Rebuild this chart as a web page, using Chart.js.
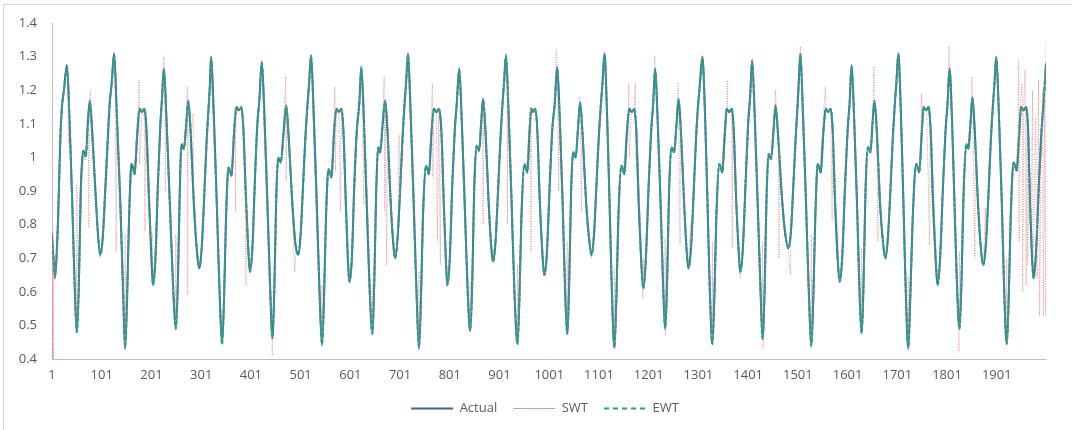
<!DOCTYPE html>
<html>
<head>
<meta charset="utf-8">
<script src="https://cdn.jsdelivr.net/npm/chart.js@4.4.1/dist/chart.umd.min.js"></script>
<style>
  html, body { margin: 0; padding: 0; background: #fff; overflow: hidden; }
  #wrap { position: relative; width: 1072px; height: 430px; }
  #frame { position: absolute; left: 3px; top: 4px; width: 1100px; height: 460px; border: 1px solid #d9d9d9; box-sizing: border-box; }
  canvas { position: absolute; left: 0; top: 0; }
</style>
</head>
<body>
<div id="wrap">
  <div id="frame"></div>
  <canvas id="chart" width="1072" height="430"></canvas>
</div>
<script>
// tick labels
const xTicks = [1, 101, 201, 301, 401, 501, 601, 701, 801, 901, 1001, 1101, 1201, 1301, 1401, 1501, 1601, 1701, 1801, 1901];
const yTicks = [0.4, 0.5, 0.6, 0.7, 0.8, 0.9, 1, 1.1, 1.2, 1.3, 1.4];
const seriesNames = ['Actual', 'SWT', 'EWT'];

// Actual: [sample index, value] read at turning points of the curve
const actualPts = [
  [1,0.77],[4,0.7],[7,0.64],[10,0.7],[13,0.81],[18,1.07],[21,1.15],[25,1.2],
  [31,1.275],[36,1.12],[42,0.85],[47,0.6],[51,0.478],[55,0.62],[59,0.91],[64,1.02],[69,1.005],[73,1.1],[77,1.17],[82,1.07],[89,0.88],[94,0.76],[98,0.71],[103,0.76],[108,0.9],[113,1.05],[117,1.16],[121,1.22],
  [126,1.31],[131,1.14],[138,0.88],[144,0.6],[148,0.43],[152,0.58],[156,0.82],[161,0.98],[164,0.97],[167,0.95],[172,1.06],[177,1.145],[182,1.135],[187,1.145],[191,1.08],[196,0.88],[201,0.7],[204,0.62],[209,0.7],[214,0.92],[219,1.1],[222,1.17],
  [226,1.266],[231,1.12],[238,0.86],[245,0.6],[250,0.49],[254,0.62],[258,0.9],[261,1.04],[266,1.025],[271,1.1],[275,1.17],[280,1.07],[286,0.87],[292,0.73],[297,0.67],[302,0.73],[307,0.88],[312,1.05],[316,1.15],[318,1.2],
  [321,1.3],[326,1.14],[332,0.88],[338,0.6],[343,0.445],[347,0.58],[351,0.82],[356,0.97],[359,0.96],[362,0.945],[367,1.07],[372,1.15],[377,1.14],[382,1.15],[386,1.08],[391,0.88],[396,0.72],[399,0.66],[404,0.73],[409,0.93],[414,1.1],[418,1.17],
  [423,1.285],[428,1.13],[434,0.87],[440,0.6],[444,0.46],[448,0.6],[452,0.88],[456,1.0],[461,0.985],[467,1.08],[472,1.155],[477,1.06],[484,0.87],[490,0.75],[496,0.71],[501,0.77],[506,0.92],[511,1.07],[515,1.16],[518,1.22],
  [522,1.305],[527,1.14],[533,0.88],[539,0.6],[544,0.44],[548,0.58],[552,0.82],[557,0.965],[560,0.955],[563,0.94],[568,1.07],[573,1.145],[578,1.135],[583,1.145],[587,1.08],[592,0.86],[596,0.7],[599,0.63],[604,0.7],[609,0.92],[614,1.08],[619,1.16],
  [623,1.27],[628,1.12],[634,0.86],[640,0.6],[645,0.475],[649,0.62],[653,0.9],[657,1.03],[661,1.015],[666,1.1],[671,1.17],[676,1.07],[682,0.87],[687,0.75],[691,0.7],[696,0.76],[701,0.9],[706,1.06],[710,1.16],[713,1.22],
  [717,1.31],[722,1.14],[728,0.88],[734,0.6],[739,0.43],[743,0.58],[747,0.82],[753,0.975],[756,0.965],[759,0.95],[764,1.07],[769,1.145],[774,1.135],[779,1.145],[784,1.08],[789,0.86],[793,0.7],[796,0.62],[801,0.7],[806,0.92],[811,1.08],[815,1.16],
  [820,1.265],[825,1.11],[831,0.86],[837,0.6],[842,0.483],[846,0.62],[850,0.9],[855,1.035],[860,1.02],[864,1.1],[868,1.175],[873,1.07],[879,0.87],[884,0.74],[888,0.69],[893,0.75],[898,0.9],[903,1.06],[907,1.16],[910,1.22],
  [914,1.305],[919,1.14],[925,0.88],[931,0.6],[937,0.445],[941,0.58],[945,0.82],[951,0.98],[954,0.97],[957,0.955],[961,1.07],[965,1.145],[969,1.135],[973,1.145],[977,1.08],[982,0.87],[987,0.72],[991,0.65],[996,0.71],[1002,0.92],[1007,1.08],[1012,1.16],
  [1017,1.27],[1022,1.12],[1028,0.86],[1033,0.6],[1037,0.475],[1041,0.62],[1045,0.9],[1049,1.015],[1054,1.0],[1059,1.09],[1063,1.165],[1068,1.07],[1075,0.87],[1081,0.76],[1086,0.71],[1091,0.77],[1096,0.92],[1101,1.07],[1105,1.16],[1108,1.22],
  [1112,1.31],[1117,1.14],[1122,0.88],[1127,0.6],[1132,0.433],[1136,0.58],[1140,0.82],[1146,0.975],[1149,0.965],[1152,0.95],[1157,1.07],[1162,1.145],[1167,1.135],[1172,1.145],[1176,1.08],[1181,0.86],[1186,0.69],[1190,0.61],[1195,0.69],[1201,0.92],[1206,1.08],[1210,1.16],
  [1214,1.265],[1219,1.11],[1225,0.86],[1230,0.62],[1234,0.49],[1238,0.63],[1242,0.9],[1247,1.03],[1252,1.015],[1257,1.1],[1261,1.175],[1266,1.07],[1272,0.87],[1277,0.73],[1281,0.67],[1286,0.73],[1291,0.88],[1296,1.05],[1300,1.15],[1303,1.2],
  [1309,1.3],[1314,1.14],[1319,0.88],[1324,0.6],[1329,0.445],[1333,0.58],[1337,0.82],[1343,0.98],[1346,0.97],[1349,0.955],[1354,1.07],[1358,1.145],[1363,1.135],[1368,1.145],[1372,1.08],[1377,0.87],[1382,0.72],[1385,0.66],[1390,0.72],[1396,0.93],[1401,1.1],[1405,1.18],
  [1409,1.29],[1414,1.13],[1420,0.87],[1426,0.6],[1430,0.46],[1434,0.6],[1438,0.88],[1442,1.01],[1447,0.995],[1452,1.08],[1456,1.155],[1461,1.07],[1468,0.9],[1475,0.78],[1482,0.73],[1487,0.78],[1492,0.92],[1497,1.07],[1501,1.17],[1503,1.23],
  [1506,1.31],[1511,1.14],[1517,0.88],[1523,0.6],[1528,0.44],[1532,0.58],[1536,0.82],[1541,0.98],[1544,0.97],[1547,0.955],[1552,1.07],[1557,1.145],[1562,1.135],[1567,1.145],[1571,1.08],[1576,0.86],[1581,0.7],[1585,0.63],[1590,0.7],[1596,0.92],[1601,1.08],[1605,1.16],
  [1609,1.275],[1614,1.12],[1620,0.86],[1625,0.6],[1629,0.478],[1633,0.62],[1637,0.9],[1642,1.03],[1647,1.015],[1651,1.1],[1655,1.17],[1660,1.07],[1666,0.87],[1672,0.75],[1677,0.7],[1682,0.76],[1687,0.9],[1692,1.06],[1696,1.16],[1699,1.22],
  [1703,1.31],[1708,1.14],[1713,0.88],[1718,0.6],[1723,0.43],[1727,0.58],[1732,0.82],[1739,0.98],[1742,0.97],[1745,0.955],[1750,1.07],[1754,1.15],[1759,1.14],[1764,1.15],[1768,1.08],[1773,0.86],[1778,0.7],[1782,0.62],[1787,0.7],[1793,0.92],[1798,1.08],[1802,1.16],
  [1806,1.265],[1811,1.11],[1816,0.86],[1821,0.62],[1826,0.49],[1830,0.63],[1834,0.88],[1840,1.04],[1844,1.025],[1848,1.1],[1852,1.18],[1857,1.07],[1863,0.87],[1869,0.73],[1874,0.68],[1879,0.74],[1884,0.88],[1889,1.05],[1893,1.15],[1896,1.21],
  [1900,1.3],[1905,1.14],[1911,0.87],[1916,0.6],[1921,0.445],[1925,0.58],[1929,0.82],[1935,0.985],[1938,0.975],[1941,0.96],[1946,1.07],[1950,1.15],[1955,1.14],[1960,1.15],[1964,1.08],[1968,0.86],[1972,0.7],[1975,0.64],[1980,0.72],[1986,0.93],[1991,1.08],[1995,1.16],[2000,1.28]
];

// EWT: values at the same sample indices as actualPts
const ewtY = [
  0.76,0.7,0.65,0.7,0.8,1.06,1.15,1.2,
  1.27,1.12,0.85,0.6,0.48,0.62,0.9,1.02,1.0,1.1,1.165,1.07,0.88,0.76,0.71,0.76,0.9,1.05,1.16,1.22,
  1.305,1.14,0.88,0.6,0.435,0.58,0.82,0.98,0.97,0.95,1.06,1.145,1.135,1.145,1.08,0.88,0.7,0.62,0.7,0.92,1.1,1.17,
  1.262,1.12,0.86,0.6,0.49,0.62,0.9,1.035,1.025,1.1,1.165,1.07,0.87,0.73,0.67,0.73,0.88,1.05,1.15,1.2,
  1.295,1.14,0.88,0.6,0.445,0.58,0.82,0.97,0.96,0.945,1.07,1.145,1.14,1.145,1.08,0.88,0.72,0.66,0.73,0.93,1.1,1.17,
  1.28,1.13,0.87,0.6,0.465,0.6,0.88,1.0,0.985,1.08,1.15,1.06,0.87,0.75,0.71,0.77,0.92,1.07,1.16,1.22,
  1.3,1.14,0.88,0.6,0.445,0.58,0.82,0.965,0.955,0.94,1.07,1.145,1.135,1.145,1.08,0.86,0.7,0.63,0.7,0.92,1.08,1.16,
  1.265,1.12,0.86,0.6,0.475,0.62,0.9,1.03,1.015,1.1,1.165,1.07,0.87,0.75,0.7,0.76,0.9,1.06,1.16,1.22,
  1.305,1.14,0.88,0.6,0.435,0.58,0.82,0.975,0.965,0.95,1.07,1.145,1.135,1.145,1.08,0.86,0.7,0.62,0.7,0.92,1.08,1.16,
  1.26,1.11,0.86,0.6,0.485,0.62,0.9,1.035,1.02,1.1,1.17,1.07,0.87,0.74,0.69,0.75,0.9,1.06,1.16,1.22,
  1.3,1.14,0.88,0.6,0.445,0.58,0.82,0.98,0.97,0.955,1.07,1.145,1.135,1.145,1.08,0.87,0.72,0.65,0.71,0.92,1.08,1.16,
  1.265,1.12,0.86,0.6,0.475,0.62,0.9,1.015,1.0,1.09,1.16,1.07,0.87,0.76,0.71,0.77,0.92,1.07,1.16,1.22,
  1.305,1.14,0.88,0.6,0.435,0.58,0.82,0.975,0.965,0.95,1.07,1.145,1.135,1.145,1.08,0.86,0.69,0.61,0.69,0.92,1.08,1.16,
  1.26,1.11,0.86,0.62,0.49,0.63,0.9,1.03,1.015,1.1,1.17,1.07,0.87,0.73,0.67,0.73,0.88,1.05,1.15,1.2,
  1.295,1.14,0.88,0.6,0.445,0.58,0.82,0.98,0.97,0.955,1.07,1.145,1.135,1.145,1.08,0.87,0.72,0.66,0.72,0.93,1.1,1.18,
  1.285,1.13,0.87,0.6,0.46,0.6,0.88,1.01,0.995,1.08,1.15,1.07,0.9,0.78,0.73,0.78,0.92,1.07,1.17,1.23,
  1.305,1.14,0.88,0.6,0.44,0.58,0.82,0.98,0.97,0.955,1.07,1.145,1.135,1.145,1.08,0.86,0.7,0.63,0.7,0.92,1.08,1.16,
  1.27,1.12,0.86,0.6,0.478,0.62,0.9,1.03,1.015,1.1,1.165,1.07,0.87,0.75,0.7,0.76,0.9,1.06,1.16,1.22,
  1.305,1.14,0.88,0.6,0.435,0.58,0.82,0.98,0.97,0.955,1.07,1.15,1.14,1.15,1.08,0.86,0.7,0.62,0.7,0.92,1.08,1.16,
  1.26,1.11,0.86,0.62,0.49,0.63,0.88,1.04,1.025,1.1,1.175,1.07,0.87,0.73,0.68,0.74,0.88,1.05,1.15,1.21,
  1.295,1.14,0.87,0.6,0.445,0.58,0.82,0.985,0.975,0.96,1.07,1.15,1.14,1.15,1.08,0.86,0.7,0.64,0.72,0.93,1.08,1.16,1.27
];

// SWT: [sample index, value], follows the curve but with the dotted spikes
const swtPts = [
  [1,0.76],[2,0.4],[3,0.78],[4,0.4],[5,0.7],[7,0.64],[10,0.7],[13,0.82],[18,1.06],[21,1.15],[25,1.21],
  [31,1.27],[33,1.2],[34,1.04],[35,1.17],[41,0.86],[47,0.6],[50,0.5],[51,0.92],[52,0.49],[56,0.66],[60,0.93],[65,1.0],[69,0.99],[74,1.1],[75,0.79],[76,1.13],[78,1.2],[80,1.08],[86,0.95],[92,0.8],[97,0.7],[103,0.77],[108,0.92],[111,1.0],[115,1.12],[119,1.18],[123,1.24],
  [126,1.3],[128,1.22],[130,0.72],[131,1.16],[138,0.88],[144,0.6],[147,0.45],[148,0.77],[149,0.44],[153,0.62],[157,0.86],[161,0.97],[166,0.95],[171,1.07],[175,1.13],[176,1.23],[177,0.98],[182,1.14],[187,1.12],[188,0.78],[189,1.1],[195,0.87],[200,0.75],[203,0.77],[204,0.62],[209,0.72],[214,0.91],[219,1.08],[222,1.18],
  [226,1.3],[228,1.2],[229,0.9],[230,1.12],[238,0.86],[245,0.6],[249,0.5],[250,0.77],[251,0.49],[255,0.64],[258,0.9],[261,1.03],[266,1.02],[271,1.1],[273,1.21],[274,0.59],[275,1.17],[280,1.06],[285,1.13],[286,0.9],[292,0.74],[297,0.68],[302,0.74],[307,0.88],[312,1.03],[316,1.15],[318,1.2],
  [321,1.3],[323,1.2],[330,0.94],[338,0.62],[342,0.47],[343,0.45],[347,0.58],[351,0.82],[356,0.97],[361,0.95],[366,1.06],[369,1.15],[370,0.84],[371,1.14],[376,1.14],[381,1.15],[386,1.08],[390,0.92],[391,0.62],[392,0.88],[396,0.72],[399,0.66],[404,0.72],[407,0.86],[409,0.93],[414,1.1],[418,1.17],
  [423,1.28],[425,1.2],[431,0.95],[438,0.65],[443,0.47],[444,0.41],[445,0.47],[449,0.62],[452,0.86],[456,1.0],[461,0.98],[467,1.08],[471,1.24],[472,0.93],[473,1.15],[478,1.04],[482,0.94],[486,0.77],[489,0.66],[492,0.72],[496,0.71],[501,0.76],[506,0.92],[511,1.07],[515,1.16],[518,1.22],
  [522,1.3],[524,1.22],[530,0.95],[537,0.65],[543,0.45],[544,0.62],[545,0.44],[549,0.6],[552,0.83],[557,0.965],[562,0.95],[567,1.06],[570,1.21],[571,0.96],[573,1.14],[578,1.135],[581,0.84],[583,1.14],[587,1.07],[592,0.86],[596,0.73],[599,0.63],[604,0.7],[609,0.92],[614,1.08],[619,1.16],
  [623,1.27],[625,1.2],[628,0.86],[629,1.1],[636,0.85],[641,0.6],[644,0.48],[645,0.62],[646,0.47],[650,0.64],[653,0.9],[657,1.03],[661,1.01],[666,1.1],[669,1.24],[670,0.84],[671,1.17],[674,0.68],[676,1.06],[682,0.87],[687,0.76],[691,0.7],[696,0.76],[699,1.07],[700,0.86],[705,1.04],[710,1.16],[713,1.22],
  [717,1.31],[719,1.23],[726,0.93],[733,0.62],[738,0.44],[739,0.66],[740,0.43],[744,0.59],[748,0.83],[753,0.975],[758,0.95],[763,1.07],[766,1.22],[767,0.94],[769,1.145],[774,1.135],[776,0.75],[779,1.145],[782,0.68],[784,1.08],[789,0.86],[793,0.72],[796,0.62],[801,0.7],[806,0.92],[811,1.08],[815,1.16],
  [820,1.27],[822,1.23],[828,0.93],[836,0.62],[841,0.49],[842,0.63],[843,0.48],[847,0.64],[851,0.92],[856,1.035],[860,1.02],[864,1.1],[867,1.14],[868,0.8],[869,1.175],[873,1.07],[879,0.87],[884,0.74],[888,0.72],[893,0.75],[898,0.9],[903,1.06],[907,1.16],[910,1.22],
  [914,1.31],[916,1.28],[917,0.8],[918,1.22],[925,0.89],[931,0.62],[936,0.45],[937,0.68],[938,0.44],[942,0.6],[946,0.84],[951,0.98],[955,0.965],[960,1.07],[963,1.15],[964,0.72],[965,1.145],[969,1.135],[973,1.145],[977,1.08],[982,0.87],[987,0.72],[991,0.65],[996,0.71],[1002,0.92],[1007,1.08],[1012,1.16],
  [1015,1.32],[1017,1.27],[1020,0.9],[1021,1.16],[1028,0.86],[1033,0.6],[1036,0.5],[1037,0.75],[1038,0.47],[1042,0.64],[1045,0.9],[1049,1.015],[1054,1.0],[1059,1.09],[1062,1.18],[1063,1.15],[1066,0.84],[1067,1.12],[1075,0.87],[1081,0.76],[1086,0.7],[1091,0.77],[1096,0.92],[1101,1.07],[1105,1.16],[1108,1.22],
  [1112,1.31],[1114,1.24],[1122,0.88],[1127,0.6],[1131,0.45],[1132,0.67],[1133,0.43],[1137,0.6],[1141,0.83],[1146,0.975],[1150,0.96],[1155,1.06],[1160,1.145],[1161,1.22],[1162,1.0],[1166,1.14],[1171,1.135],[1174,1.22],[1175,1.0],[1178,1.07],[1183,0.86],[1187,0.7],[1189,0.58],[1190,0.7],[1191,0.61],[1196,0.7],[1201,0.92],[1206,1.08],[1210,1.16],
  [1213,1.3],[1214,1.265],[1219,1.11],[1225,0.86],[1230,0.62],[1233,0.5],[1234,0.76],[1235,0.47],[1239,0.64],[1242,0.9],[1247,1.03],[1252,1.015],[1257,1.1],[1260,1.22],[1261,1.17],[1264,0.74],[1265,1.1],[1271,0.9],[1276,0.75],[1281,0.68],[1285,0.8],[1286,0.73],[1291,0.88],[1296,1.05],[1300,1.15],[1303,1.2],
  [1309,1.3],[1311,1.24],[1319,0.88],[1324,0.6],[1328,0.46],[1329,0.75],[1330,0.445],[1334,0.6],[1338,0.85],[1343,0.98],[1347,0.965],[1352,1.06],[1358,1.145],[1359,1.23],[1360,1.13],[1364,1.135],[1368,1.145],[1369,0.73],[1370,1.1],[1376,0.88],[1382,0.72],[1385,0.64],[1390,0.72],[1396,0.93],[1401,1.1],[1405,1.18],
  [1409,1.29],[1411,1.22],[1420,0.87],[1426,0.6],[1429,0.47],[1430,0.75],[1431,0.43],[1434,0.6],[1438,0.88],[1442,1.01],[1447,0.995],[1452,1.08],[1456,1.2],[1457,1.15],[1462,1.06],[1463,0.7],[1464,1.03],[1470,0.88],[1476,0.78],[1482,0.72],[1486,0.65],[1487,0.78],[1492,0.92],[1497,1.07],[1501,1.17],[1503,1.23],
  [1506,1.33],[1507,1.3],[1511,1.14],[1517,0.88],[1523,0.6],[1527,0.43],[1528,0.77],[1529,0.45],[1532,0.6],[1536,0.85],[1541,0.98],[1545,0.965],[1550,1.06],[1556,1.21],[1557,1.145],[1562,1.135],[1567,1.145],[1570,0.81],[1571,1.08],[1577,0.86],[1582,0.77],[1583,0.68],[1585,0.63],[1590,0.7],[1596,0.92],[1601,1.08],[1605,1.16],
  [1609,1.275],[1614,1.12],[1620,0.86],[1625,0.6],[1628,0.49],[1629,0.73],[1630,0.48],[1634,0.64],[1637,0.9],[1642,1.03],[1647,1.015],[1651,1.1],[1654,1.27],[1655,1.17],[1660,1.07],[1662,0.75],[1663,1.0],[1667,0.87],[1672,0.75],[1677,0.7],[1679,0.75],[1682,0.76],[1687,0.9],[1692,1.06],[1696,1.16],[1699,1.22],
  [1703,1.31],[1708,1.14],[1713,0.88],[1718,0.6],[1722,0.44],[1723,0.65],[1724,0.43],[1728,0.6],[1732,0.82],[1739,0.98],[1742,0.97],[1746,0.955],[1750,1.19],[1751,1.07],[1755,1.15],[1760,1.14],[1766,0.74],[1767,1.1],[1770,1.06],[1775,0.86],[1779,0.72],[1782,0.62],[1787,0.7],[1793,0.92],[1798,1.08],[1802,1.16],
  [1805,1.33],[1806,1.265],[1811,1.11],[1816,0.86],[1821,0.62],[1825,0.42],[1826,0.72],[1827,0.49],[1830,0.63],[1834,0.88],[1840,1.04],[1844,1.025],[1848,1.1],[1851,1.24],[1852,1.18],[1857,0.7],[1858,1.05],[1863,0.87],[1869,0.73],[1874,0.68],[1878,0.85],[1879,0.74],[1884,0.88],[1889,1.05],[1893,1.15],[1896,1.21],
  [1900,1.3],[1905,1.14],[1911,0.87],[1916,0.6],[1920,0.45],[1921,0.7],[1922,0.445],[1926,0.6],[1930,0.84],[1935,0.985],[1939,0.97],[1944,1.05],[1945,1.29],[1946,0.75],[1948,1.15],[1952,1.22],[1953,0.6],[1955,1.14],[1958,1.26],[1960,0.62],[1962,1.12],[1963,0.68],[1966,0.95],[1970,0.8],[1973,1.2],[1974,0.7],[1976,0.82],[1979,1.12],[1982,0.64],[1985,1.23],[1987,0.53],[1990,1.0],[1993,1.2],[1995,0.53],[1997,1.25],[1999,0.53],[2000,1.34]
];

document.addEventListener('DOMContentLoaded', function(){
  const ctx = document.getElementById('chart').getContext('2d');
  const font = { family: "'Open Sans', 'Liberation Sans', sans-serif", size: 13 };
  const toXY = pts => pts.map(p => ({ x: p[0], y: p[1] }));
  // legend sample dashes (Excel draws them a bit longer than in the plot)
  const legendDash = [[], [], [5, 4]];

  // legend is centred on the whole picture, not on the plot
  const legendShift = {
    id: 'legendShift',
    afterLayout(chart) {
      chart.legend.left += 22;
      chart.legend.right += 22;
    }
  };

  new Chart(ctx, {
    type: 'line',
    data: {
      datasets: [
        {
          label: seriesNames[0],
          data: toXY(actualPts),
          borderColor: '#47619a',
          borderWidth: 2,
          pointRadius: 0,
          cubicInterpolationMode: 'monotone',
          order: 3
        },
        {
          label: seriesNames[1],
          data: toXY(swtPts),
          borderColor: '#e8939c',
          borderWidth: 1,
          borderDash: [1, 1.5],
          pointRadius: 0,
          tension: 0,
          order: 2
        },
        {
          label: seriesNames[2],
          data: actualPts.map((p, i) => ({ x: p[0], y: ewtY[i] })),
          borderColor: '#20a287',
          borderWidth: 2,
          borderDash: [4, 2],
          pointRadius: 0,
          cubicInterpolationMode: 'monotone',
          order: 1
        }
      ]
    },
    plugins: [legendShift],
    options: {
      responsive: false,
      animation: false,
      devicePixelRatio: 1,
      layout: { padding: { left: 0, right: 26, top: 23, bottom: 5 } },
      scales: {
        x: {
          type: 'linear',
          min: 1,
          max: 2000,
          afterBuildTicks: s => { s.ticks = xTicks.map(v => ({ value: v })); },
          afterFit: s => { s.height = 27; },
          grid: { display: false, drawTicks: false },
          border: { display: true, color: '#bfbfbf', width: 1 },
          ticks: { color: '#595959', font: font, padding: 8, maxRotation: 0, autoSkip: false, callback: v => String(v) }
        },
        y: {
          min: 0.4,
          max: 1.4,
          afterBuildTicks: s => { s.ticks = yTicks.map(v => ({ value: v })); },
          afterFit: s => { s.width = 52; },
          grid: { display: false, drawTicks: false },
          border: { display: true, color: '#bfbfbf', width: 1 },
          ticks: { color: '#595959', font: font, padding: 15, callback: v => String(+Number(v).toFixed(1)) }
        }
      },
      plugins: {
        legend: {
          position: 'bottom',
          labels: {
            usePointStyle: true,
            pointStyleWidth: 42,
            color: '#595959',
            font: font,
            padding: 16,
            generateLabels: chart => chart.data.datasets.map((ds, i) => ({
              text: ds.label,
              datasetIndex: i,
              fillStyle: ds.borderColor,
              strokeStyle: ds.borderColor,
              lineWidth: ds.borderWidth,
              lineDash: legendDash[i],
              pointStyle: 'line',
              hidden: false,
              fontColor: '#595959'
            }))
          }
        },
        tooltip: { enabled: false }
      }
    }
  });
});
</script>
</body>
</html>
